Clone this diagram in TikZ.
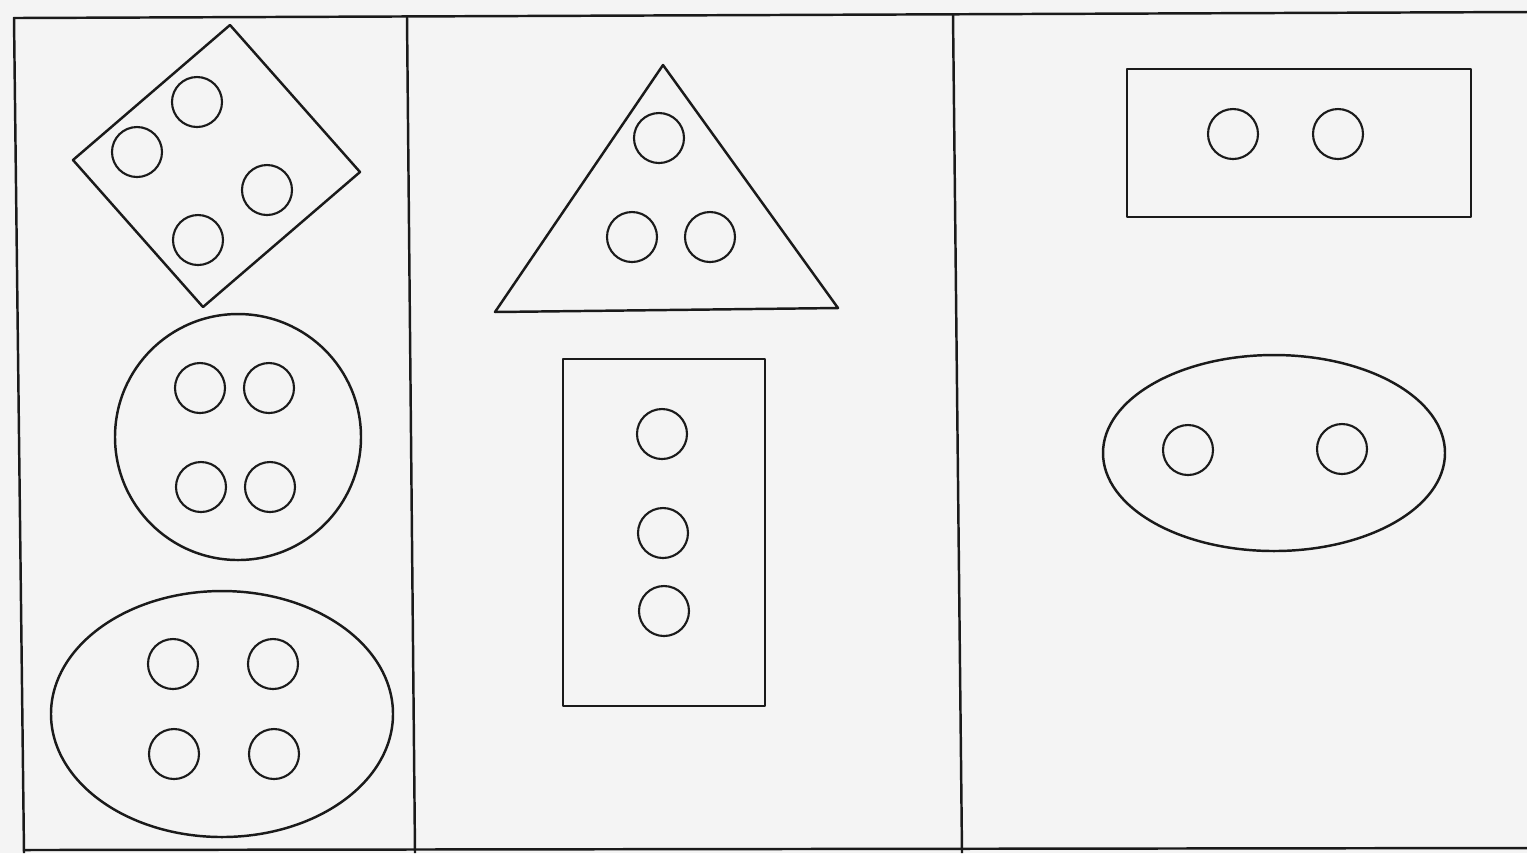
\documentclass[tikz,border=0pt]{standalone}
\usepackage{tikz}
\definecolor{sheetGray}{HTML}{F4F4F4}
\definecolor{penInk}{HTML}{1A1A1A}
\begin{document}
\begin{tikzpicture}[x=0.01cm, y=-0.01cm, line join=round,
  outline/.style={draw=penInk, line width=0.7pt},
  dot/.style={draw=penInk, line width=0.6pt}]
\useasboundingbox (0,0) rectangle (1527,853);
\fill[sheetGray] (0,0) rectangle (1527,853);
% frame and panel dividers
\draw[outline] (1527,12) -- (14,18) -- (24,853);
\draw[outline] (24,850) -- (1527,848);
\draw[outline] (407,17) -- (415,853);
\draw[outline] (953,14) -- (962,853);
% left panel
\draw[outline] (230,25) -- (360,172) -- (203,307) -- (73,160) -- cycle;
\foreach \x/\y in {197/102, 137/152, 267/190, 198/240}
  \draw[dot] (\x,\y) circle[x radius=25, y radius=25];
\draw[outline] (238,437) circle[x radius=123, y radius=123];
\foreach \x/\y in {200/388, 269/388, 201/487, 270/487}
  \draw[dot] (\x,\y) circle[x radius=25, y radius=25];
\draw[outline] (222,714) ellipse[x radius=171, y radius=123];
\foreach \x/\y in {173/664, 273/664, 174/754, 274/754}
  \draw[dot] (\x,\y) circle[x radius=25, y radius=25];
% middle panel
\draw[outline] (663,65) -- (838,308) -- (495,312) -- cycle;
\foreach \x/\y in {659/138, 632/237, 710/237}
  \draw[dot] (\x,\y) circle[x radius=25, y radius=25];
\draw[outline] (563,359) rectangle (765,706);
\foreach \x/\y in {662/434, 663/533, 664/611}
  \draw[dot] (\x,\y) circle[x radius=25, y radius=25];
% right panel
\draw[outline] (1127,69) rectangle (1471,217);
\foreach \x/\y in {1233/134, 1338/134}
  \draw[dot] (\x,\y) circle[x radius=25, y radius=25];
\draw[outline] (1274,453) ellipse[x radius=171, y radius=98];
\foreach \x/\y in {1188/450, 1342/449}
  \draw[dot] (\x,\y) circle[x radius=25, y radius=25];
\end{tikzpicture}
\end{document}
